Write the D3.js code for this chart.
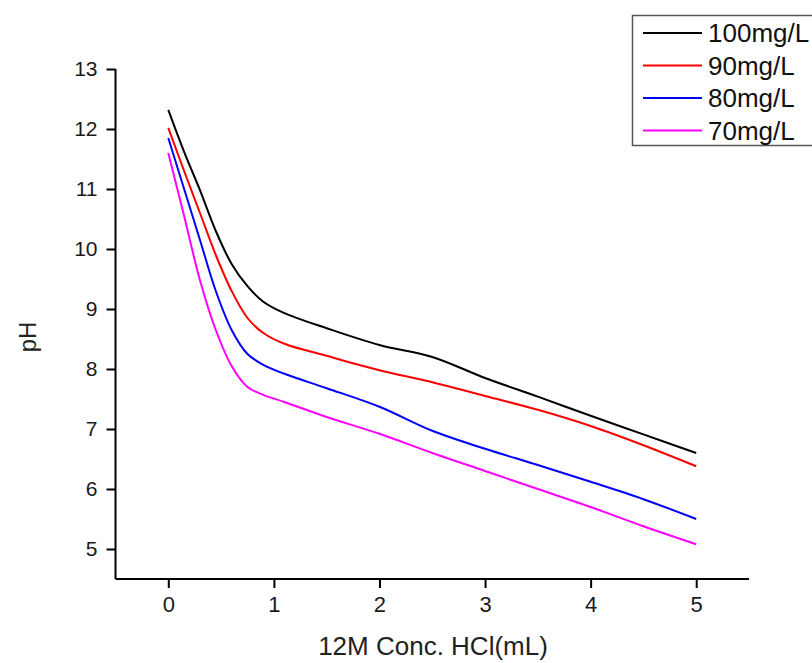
<!DOCTYPE html>
<html>
<head>
<meta charset="utf-8">
<script src="https://cdn.jsdelivr.net/npm/d3@7"></script>
<style>
  body { margin: 0; background: #fff; }
  svg { display: block; font-family: "Liberation Sans", Arial, sans-serif; }
</style>
</head>
<body>
<div id="chart"></div>
<script>
// HCl volume (mL)
const volumes = [0, 0.15, 0.3, 0.45, 0.6, 0.75, 0.9, 1.1, 1.5, 2, 2.5, 3, 3.5, 4, 4.5, 5];

// pH readings per dose
const ph100 = [12.32, 11.62, 10.98, 10.3, 9.75, 9.38, 9.12, 8.93, 8.68, 8.4, 8.2, 7.85, 7.54, 7.22, 6.91, 6.6];
const ph90 = [12.02, 11.3, 10.6, 9.9, 9.3, 8.85, 8.6, 8.42, 8.22, 7.98, 7.78, 7.55, 7.32, 7.05, 6.73, 6.38];
const ph80 = [11.85, 11.0, 10.15, 9.3, 8.65, 8.25, 8.07, 7.92, 7.68, 7.37, 6.97, 6.67, 6.4, 6.12, 5.83, 5.5];
const ph70 = [11.6, 10.55, 9.48, 8.65, 8.05, 7.7, 7.57, 7.45, 7.2, 6.92, 6.6, 6.3, 6.0, 5.7, 5.38, 5.08];

const seriesNames = ['100mg/L', '90mg/L', '80mg/L', '70mg/L'];
const seriesValues = [ph100, ph90, ph80, ph70];
const seriesColors = ['#000000', '#ff0000', '#0000ff', '#ff00ff'];

const xTicks = [0, 1, 2, 3, 4, 5];
const yTicks = [5, 6, 7, 8, 9, 10, 11, 12, 13];

const width = 812;
const height = 663;
const margin = { left: 115.5, right: 63, top: 69, bottom: 84 };
const fontFamily = '"Liberation Sans", Arial, sans-serif';

const svg = d3.select('#chart')
  .append('svg')
  .attr('width', width)
  .attr('height', height);

const x = d3.scaleLinear()
  .domain([-0.5, 5.5])
  .range([margin.left, width - margin.right]);

const y = d3.scaleLinear()
  .domain([4.5, 13])
  .range([height - margin.bottom, margin.top]);

/* axes, outward ticks, minor ticks at the halves */
const xMinor = d3.range(-0.5, 5.51, 0.5).filter(v => !xTicks.includes(v));
const yMinor = d3.range(4.5, 13, 0.5).filter(v => !yTicks.includes(v));

const gx = svg.append('g')
  .attr('transform', `translate(0,${y(4.5)})`);
gx.call(d3.axisBottom(x).tickValues(xMinor).tickSize(5).tickFormat(''));
gx.call(d3.axisBottom(x).tickValues(xTicks).tickSize(9).tickPadding(8).tickFormat(d3.format('d')));
gx.selectAll('.domain').attr('d', `M${x(-0.5)},0H${x(5.5)}`).attr('stroke-width', 2);
gx.selectAll('.tick line').attr('stroke-width', 2);
gx.selectAll('text').attr('font-size', 22).attr('fill', '#1a1a1a')
  .attr('font-family', fontFamily);

const gy = svg.append('g')
  .attr('transform', `translate(${x(-0.5)},0)`);
gy.call(d3.axisLeft(y).tickValues(yMinor).tickSize(5).tickFormat(''));
gy.call(d3.axisLeft(y).tickValues(yTicks).tickSize(9).tickPadding(9).tickFormat(d3.format('d')));
gy.selectAll('.domain').attr('d', `M0,${y(4.5)}V${y(13)}`).attr('stroke-width', 2);
gy.selectAll('.tick line').attr('stroke-width', 2);
gy.selectAll('text').attr('font-size', 21).attr('fill', '#1a1a1a')
  .attr('font-family', fontFamily);

/* axis titles */
svg.append('text')
  .attr('x', 433)
  .attr('y', 655)
  .attr('text-anchor', 'middle')
  .attr('font-size', 26)
  .attr('fill', '#222')
  .text('12M Conc. HCl(mL)');

svg.append('text')
  .attr('transform', 'translate(36,337) rotate(-90)')
  .attr('text-anchor', 'middle')
  .attr('font-size', 24)
  .attr('fill', '#222')
  .text('pH');

/* curves */
const line = d3.line()
  .x((d, i) => x(volumes[i]))
  .y(d => y(d))
  .curve(d3.curveCatmullRom.alpha(0.5));

svg.append('g')
  .selectAll('path')
  .data(seriesValues)
  .enter()
  .append('path')
  .attr('d', line)
  .attr('fill', 'none')
  .attr('stroke', (d, i) => seriesColors[i])
  .attr('stroke-width', 2);

/* legend */
const legend = svg.append('g');
legend.append('rect')
  .attr('x', 632.5)
  .attr('y', 15.5)
  .attr('width', 200)
  .attr('height', 130)
  .attr('fill', '#fff')
  .attr('stroke', '#555')
  .attr('stroke-width', 1.5);

const rows = legend.selectAll('g.row')
  .data(seriesNames)
  .enter()
  .append('g')
  .attr('class', 'row')
  .attr('transform', (d, i) => `translate(0,${33 + i * 32.5})`);

rows.append('line')
  .attr('x1', 643)
  .attr('x2', 702)
  .attr('stroke', (d, i) => seriesColors[i])
  .attr('stroke-width', 2);

rows.append('text')
  .attr('x', 708)
  .attr('dy', '0.36em')
  .attr('font-size', 26)
  .attr('fill', '#111')
  .text(d => d);
</script>
</body>
</html>
